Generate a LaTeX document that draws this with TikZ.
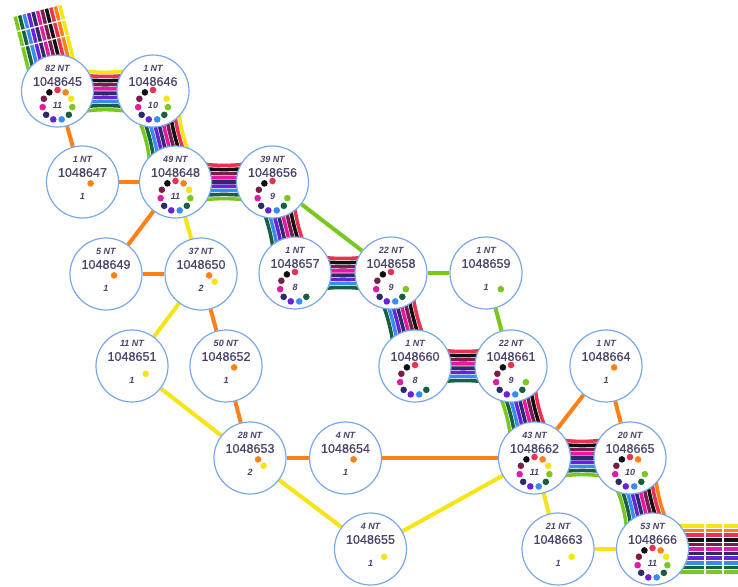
\documentclass[tikz,border=0pt]{standalone}
\usepackage{fontspec}
\setmainfont{Liberation Sans}
\usetikzlibrary{calc}
\pgfdeclarelayer{bg}
\pgfsetlayers{bg,main}
\definecolor{cyl}{RGB}{247,228,20}
\definecolor{cor}{RGB}{255,128,20}
\definecolor{crd}{RGB}{232,50,80}
\definecolor{cbk}{RGB}{15,15,20}
\definecolor{cmr}{RGB}{120,30,75}
\definecolor{cmg}{RGB}{228,25,165}
\definecolor{cnv}{RGB}{45,42,105}
\definecolor{cvi}{RGB}{105,35,215}
\definecolor{clb}{RGB}{55,140,240}
\definecolor{cdg}{RGB}{25,95,65}
\definecolor{cgr}{RGB}{120,200,30}
\definecolor{txt}{RGB}{74,68,105}
\definecolor{ringc}{RGB}{120,168,232}
\colorlet{k0}{crd}\colorlet{k1}{cor}\colorlet{k2}{cyl}\colorlet{k3}{cgr}
\colorlet{k4}{cdg}\colorlet{k5}{clb}\colorlet{k6}{cvi}\colorlet{k7}{cnv}
\colorlet{k8}{cmg}\colorlet{k9}{cmr}\colorlet{k10}{cbk}
\tikzset{
  gcirc/.style={circle,draw=ringc,line width=1.2pt,fill=white,minimum size=72pt,inner sep=0pt},
  ntlbl/.style={inner sep=0pt,text=txt,font=\fontsize{9}{10}\selectfont\bfseries\itshape},
  idlbl/.style={inner sep=0pt,text=txt,font=\fontsize{12.6}{13}\selectfont\addfontfeature{FakeBold=0.7}},
  cntlbl/.style={inner sep=0pt,text=txt,font=\fontsize{9}{10}\selectfont\bfseries\itshape},
  stripe/.style={line width=3.5pt},
  eorange/.style={draw=cor,line width=4pt},
  eyellow/.style={draw=cyl,line width=4pt},
  egreen/.style={draw=cgr,line width=4pt},
  gapline/.style={draw=white,line width=1.3pt}
}
\newcommand\gnode[7]{%
  \node[gcirc] (#1) at (#2,#3) {};
  \node[ntlbl] (#1-nt) at ($(#1)+(0,-22.5)$) {#4 NT};
  \node[idlbl] (#1-id) at ($(#1)+(0,-9.5)$) {#5};
  \node[cntlbl] (#1-ct) at ($(#1)+(0,14)$) {#6};
  \foreach \k in {#7} {\pgfmathsetmacro\ang{\k*360/11-90}
    \fill[k\k] ($(#1)+(0,14)+(\ang:15)$) circle (3.3);}
}
\newcommand\rib[4]{%
  \coordinate (rq1) at ($(#1)!0.25!(#2)$);
  \coordinate (rc1) at ($(#1)!0.42!(#2)$);
  \coordinate (rc2) at ($(#1)!0.58!(#2)$);
  \coordinate (rq2) at ($(#1)!0.75!(#2)$);
  \foreach \c [count=\i] in {#4} {
    \pgfmathsetmacro\ofs{((#3+1)/2-\i)*4.6}
    \pgfmathsetmacro\ofi{0.87*\ofs}
    \draw[stripe,\c] ($(#1)!\ofs pt!90:(#2)$) -- ($(rq1)!\ofs pt!90:(#2)$)
      .. controls ($(rc1)!\ofi pt!90:(#2)$) and ($(rc2)!\ofi pt!90:(#2)$) ..
      ($(rq2)!\ofs pt!90:(#2)$) -- ($(#2)!\ofs pt!-90:(#1)$);
  }
}
\newcommand\exrib[4]{%
  \foreach \c [count=\i] in {#4} {
    \pgfmathsetmacro\ofs{((#3+1)/2-\i)*4.6}
    \draw[stripe,\c] ($(#1)!\ofs pt!90:(#2)$) -- ($(#2)!\ofs pt!-90:(#1)$);
  }
}
\newcommand\gapat[3]{%
  \coordinate (gg) at ($(#1)!#3pt!(#2)$);
  \draw[gapline] ($(gg)!27pt!90:(#2)$) -- ($(gg)!27pt!-90:(#2)$);
}
\begin{document}
\begin{tikzpicture}[x=1pt,y=-1pt]
\useasboundingbox (0,0) rectangle (738,586);
\gnode{n645}{57.5}{91}{82}{1048645}{11}{0,...,10}
\gnode{n646}{153}{91}{1}{1048646}{10}{0,2,3,4,5,6,7,8,9,10}
\gnode{n647}{82.5}{182}{1}{1048647}{1}{1}
\gnode{n648}{175.5}{182}{49}{1048648}{11}{0,...,10}
\gnode{n656}{272.5}{182}{39}{1048656}{9}{0,3,4,5,6,7,8,9,10}
\gnode{n649}{106}{274}{5}{1048649}{1}{1}
\gnode{n650}{201}{274}{37}{1048650}{2}{1,2}
\gnode{n657}{295}{273}{1}{1048657}{8}{0,4,5,6,7,8,9,10}
\gnode{n658}{391}{273}{22}{1048658}{9}{0,3,4,5,6,7,8,9,10}
\gnode{n659}{486}{273}{1}{1048659}{1}{3}
\gnode{n651}{132}{366}{11}{1048651}{1}{2}
\gnode{n652}{226}{366}{50}{1048652}{1}{1}
\gnode{n660}{415}{366}{1}{1048660}{8}{0,4,5,6,7,8,9,10}
\gnode{n661}{511}{366}{22}{1048661}{9}{0,3,4,5,6,7,8,9,10}
\gnode{n664}{606}{366}{1}{1048664}{1}{1}
\gnode{n653}{250}{458}{28}{1048653}{2}{1,2}
\gnode{n654}{345.5}{458}{4}{1048654}{1}{1}
\gnode{n662}{534.5}{458}{43}{1048662}{11}{0,...,10}
\gnode{n665}{630}{458}{20}{1048665}{10}{0,1,3,4,5,6,7,8,9,10}
\gnode{n655}{370.5}{549}{4}{1048655}{1}{2}
\gnode{n663}{558}{549}{21}{1048663}{1}{2}
\gnode{n666}{652.5}{549}{53}{1048666}{11}{0,...,10}
\coordinate (E1) at (37.5,11);
\coordinate (E2) at (738,549);
\begin{pgfonlayer}{bg}
\fill[white] (0,0) rectangle (738,586);
% simple edges
\draw[eorange] (n645) -- (n647);
\draw[eorange] (n647) -- (n648);
\draw[eorange] (n648) -- (n649);
\draw[eorange] (n649) -- (n650);
\draw[eorange] (n650) -- (n652);
\draw[eorange] (n652) -- (n653);
\draw[eorange] (n653) -- (n654);
\draw[eorange] (n654) -- (n662);
\draw[eorange] (n662) -- (n664);
\draw[eorange] (n664) -- (n665);
\draw[eyellow] (n648) -- (n650);
\draw[eyellow] (n650) -- (n651);
\draw[eyellow] (n651) -- (n653);
\draw[eyellow] (n653) -- (n655);
\draw[eyellow] (n655) -- (n662);
\draw[eyellow] (n662) -- (n663);
\draw[eyellow] (n663) -- (n666);
\draw[egreen] (n656) -- (n658);
\draw[egreen] (n658) -- (n659);
\draw[egreen] (n659) -- (n661);
% ribbons
\exrib{E1}{n645}{11}{cyl,cor,crd,cbk,cmr,cmg,cnv,cvi,clb,cdg,cgr}
\gapat{E1}{n645}{15}
\gapat{E1}{n645}{31}
\rib{n645}{n646}{10}{cyl,crd,cbk,cmr,cmg,cnv,cvi,clb,cdg,cgr}
\rib{n646}{n648}{10}{cyl,crd,cbk,cmr,cmg,cnv,cvi,clb,cdg,cgr}
\rib{n648}{n656}{9}{crd,cbk,cmr,cmg,cnv,cvi,clb,cdg,cgr}
\rib{n656}{n657}{8}{crd,cbk,cmr,cmg,cnv,cvi,clb,cdg}
\rib{n657}{n658}{8}{crd,cbk,cmr,cmg,cnv,cvi,clb,cdg}
\rib{n658}{n660}{8}{crd,cbk,cmr,cmg,cnv,cvi,clb,cdg}
\rib{n660}{n661}{8}{crd,cbk,cmr,cmg,cnv,cvi,clb,cdg}
\rib{n661}{n662}{9}{crd,cbk,cmr,cmg,cnv,cvi,clb,cdg,cgr}
\rib{n662}{n665}{9}{crd,cbk,cmr,cmg,cnv,cvi,clb,cdg,cgr}
\rib{n665}{n666}{10}{cor,crd,cbk,cmr,cmg,cnv,cvi,clb,cdg,cgr}
\exrib{n666}{E2}{11}{cyl,cor,crd,cbk,cmr,cmg,cnv,cvi,clb,cdg,cgr}
\gapat{E2}{n666}{15}
\gapat{E2}{n666}{33}
\end{pgfonlayer}
\end{tikzpicture}
\end{document}
